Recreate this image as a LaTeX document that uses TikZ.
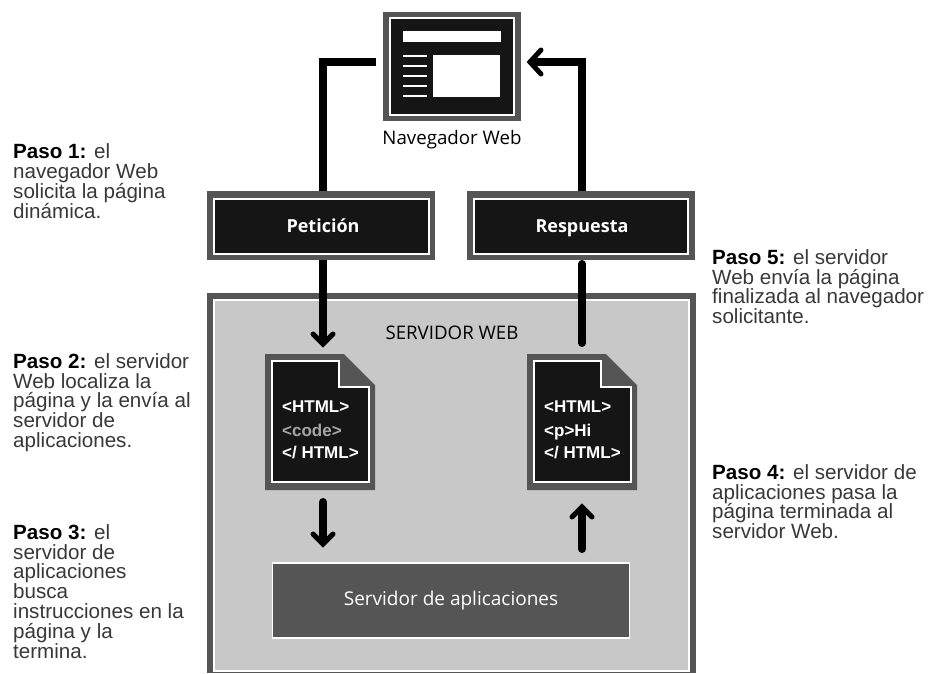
\documentclass[tikz,border=0pt]{standalone}
\usepackage{fontspec}
\setmainfont{Open Sans}
\newfontfamily\stepfont{Liberation Sans}
\tikzset{
  x=1pt,y=-1pt,
  wire/.style={line width=8pt,black,line cap=round},
  tip/.style={line width=5pt,black,line cap=round,line join=miter},
  boxouter/.style={fill=graydark,draw=none},
  boxinner/.style={fill=nearblack,draw=white,line width=1.3pt},
  steptext/.style={font=\stepfont\fontsize{20.6}{19.9}\selectfont,text=black!78,align=left,anchor=north west,inner sep=0pt},
  htmltext/.style={font=\stepfont\bfseries\fontsize{17}{20}\selectfont,text=white,anchor=base west,inner sep=0pt},
}
\definecolor{graydark}{HTML}{555555}
\definecolor{nearblack}{HTML}{151515}
\definecolor{panel}{HTML}{C8C8C8}
\begin{document}
\begin{tikzpicture}
\useasboundingbox (0,0) rectangle (931,673);
% server panel
\fill[graydark] (207,293) rectangle (696,673);
\path[fill=panel,draw=white,line width=1.2pt] (214,300) rectangle (689,671);
\node[font=\fontsize{18.7}{20}\selectfont,inner sep=0pt] (srv) at (452,333) {SERVIDOR WEB};
% browser
\node[boxouter,minimum width=138pt,minimum height=109pt,inner sep=0pt] (nav) at (452,66.5) {};
\path[boxinner] (390,18) rectangle (514,115);
\fill[white] (403,31) rectangle (501,42);
\foreach \yy in {56,66,76,86,96} \fill[white] (403,\yy-1) rectangle (427,\yy+1);
\fill[white] (433,55) rectangle (500,97);
\node[font=\fontsize{18.7}{20}\selectfont,inner sep=0pt] (navlabel) at (452,140) {Navegador Web};
% request / response
\node[boxouter,minimum width=228pt,minimum height=69pt,inner sep=0pt] (pet) at (321,225.5) {};
\path[boxinner] (214,199) rectangle (429,254);
\node[font=\bfseries\fontsize{18}{20}\selectfont,text=white,anchor=base,inner sep=0pt] (petl) at (323,232) {Petición};
\node[boxouter,minimum width=228pt,minimum height=69pt,inner sep=0pt] (res) at (581,225.5) {};
\path[boxinner] (474,199) rectangle (688,254);
\node[font=\bfseries\fontsize{18}{20}\selectfont,text=white,anchor=base,inner sep=0pt] (resl) at (582,232) {Respuesta};
% documents
\foreach \dx/\nm in {0/docl,262/docr}{
  \begin{scope}[xshift=\dx pt]
  \fill[graydark] (265,354) -- (344,354) -- (375,385) -- (375,490) -- (265,490) -- cycle;
  \path[fill=nearblack,draw=white,line width=1.2pt] (272,361) -- (339,361) -- (339,387) -- (369,387) -- (369,482) -- (272,482) -- cycle;
  \coordinate (\nm) at (320,354);
  \end{scope}
}
\node[htmltext] (a1) at (282,412) {<HTML>};
\node[htmltext,text=gray!70] (a2) at (282,436) {<code>};
\node[htmltext] (a3) at (282,458) {</ HTML>};
\node[htmltext] (b1) at (544,412) {<HTML>};
\node[htmltext] (b2) at (544,436) {<p>Hi};
\node[htmltext] (b3) at (544,458) {</ HTML>};
% application server
\node[fill=graydark,draw=white,line width=1.3pt,minimum width=357pt,minimum height=75pt,inner sep=0pt,text=white,font=\fontsize{19}{20}\selectfont] (app) at (451,600.5) {Servidor de aplicaciones};
% connectors
\coordinate (e1) at (376,62);
\draw[wire,line cap=butt,line join=miter] (pet.north -| 323,0) -- (323,62) -- (e1);
\coordinate (c1) at (323,260);
\coordinate (c2) at (323,344);
\draw[wire,line cap=butt] (c1) -- (c2);
\draw[tip] (313,334) -- (c2) -- (333,334);
\coordinate (d1) at (582,191);
\coordinate (d2) at (532,62);
\draw[wire,line cap=butt,line join=miter] (d1) -- (582,62) -- (d2);
\draw[tip] (541,50) -- (530,62) -- (541,74);
\coordinate (f1) at (582,264);
\coordinate (f2) at (582,343);
\draw[wire] (f1) -- (f2);
\coordinate (g1) at (323,502);
\coordinate (g2) at (323,542);
\draw[wire] (g1) -- (g2);
\draw[tip] (313,534) -- (323,544) -- (333,534);
\coordinate (h1) at (582,549);
\coordinate (h2) at (582,510);
\draw[wire] (h1) -- (h2);
\draw[tip] (572,517) -- (582,507) -- (592,517);
% step texts
\node[steptext] (p1) at (13,143.2) {\textbf{\color{black}Paso 1:} el\\navegador Web\\solicita la página\\dinámica.};
\node[steptext] (p2) at (13,353) {\textbf{\color{black}Paso 2:} el servidor\\Web localiza la\\página y la envía al\\servidor de\\aplicaciones.};
\node[steptext] (p3) at (13,524) {\textbf{\color{black}Paso 3:} el\\servidor de\\aplicaciones\\busca\\instrucciones en la\\página y la\\termina.};
\node[steptext] (p4) at (712,464) {\textbf{\color{black}Paso 4:} el servidor de\\aplicaciones pasa la\\página terminada al\\servidor Web.};
\node[steptext] (p5) at (712,249) {\textbf{\color{black}Paso 5:} el servidor\\Web envía la página\\finalizada al navegador\\solicitante.};
\end{tikzpicture}
\end{document}
